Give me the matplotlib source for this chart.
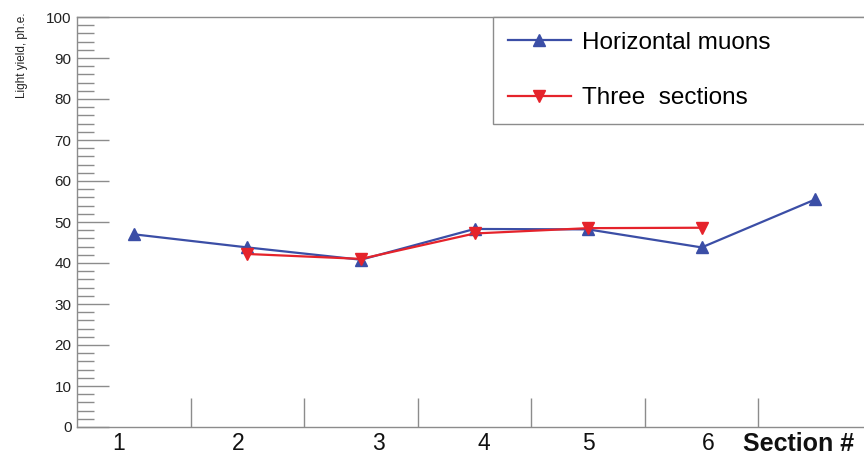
import numpy as np
import matplotlib
matplotlib.use("Agg")
import matplotlib.pyplot as plt
from matplotlib.ticker import MultipleLocator

# points along the detector (7 positions)
horizontal_muons = [47.0, 43.8, 40.8, 48.3, 48.2, 43.8, 55.5]
three_sections = [np.nan, 42.2, 41.0, 47.2, 48.5, 48.6, np.nan]
section_labels = ["1", "2", "3", "4", "5", "6"]
label_names = ["Horizontal muons", "Three  sections"]

BLUE = "#3b4ea6"
RED = "#e5232b"
FRAME = "#8c8c8c"

plt.rcParams['font.family'] = ['Liberation Sans', 'DejaVu Sans']

fig = plt.figure(figsize=(8.64, 4.55), dpi=100)
W, H = 864, 455
ax = fig.add_axes([77 / W, 1 - 427 / H, (W - 77) / W, (427 - 17) / H])

x = np.arange(len(horizontal_muons))
ax.plot(x, horizontal_muons, color=BLUE, lw=1.6, marker="^", ms=9,
        mec=BLUE, mfc=BLUE, label=label_names[0], zorder=3)
ax.plot(x, three_sections, color=RED, lw=1.6, marker="v", ms=9,
        mec=RED, mfc=RED, label=label_names[1], zorder=4)

ax.set_xlim(-0.5, (W - 133) / 113.7)
ax.set_ylim(0, 100)

for s in ["left", "bottom", "top"]:
    ax.spines[s].set_color(FRAME)
    ax.spines[s].set_linewidth(1.0)
ax.spines["right"].set_visible(False)

ax.yaxis.set_major_locator(MultipleLocator(10))
ax.yaxis.set_minor_locator(MultipleLocator(2))
ax.tick_params(axis="y", which="major", direction="in", length=23, width=1,
               color=FRAME, labelsize=11, labelcolor="#222222", pad=4)
ax.tick_params(axis="y", which="minor", direction="in", length=12, width=1,
               color=FRAME)

ax.set_xticks(np.arange(0.5, 6, 1.0))
ax.tick_params(axis="x", which="major", direction="in", length=21, width=1,
               color=FRAME, labelbottom=False)

# section labels sit off-grid under the axis, as in the original
label_pos = [-0.13, 0.92, 2.15, 3.08, 4.0, 5.06]
tr = ax.get_xaxis_transform()
for p, t in zip(label_pos, section_labels):
    ax.text(p, -0.013, t, transform=tr, ha="center", va="top", fontsize=16.5,
            color="#111111")
ax.text(5.85, -0.013, "Section #", transform=tr, ha="center", va="top",
        fontsize=18, fontweight="bold", color="#111111")

fig.text(22 / W, 1 - 13 / H, "Light yield, ph.e.", rotation=90, ha="center",
         va="top", fontsize=8.5, color="#222222")

x0 = (493 - 77) / (W - 77)
leg = ax.legend(loc="upper left", bbox_to_anchor=(x0, 0.0, 0.8, 1.0),
                mode="expand", borderaxespad=0, fontsize=17.5, numpoints=1,
                handlelength=2.6, handletextpad=0.45, labelspacing=1.38,
                borderpad=0.6, fancybox=False, framealpha=1,
                edgecolor=FRAME)
leg.get_frame().set_linewidth(1.0)

fig.savefig("out.png", dpi=100)
